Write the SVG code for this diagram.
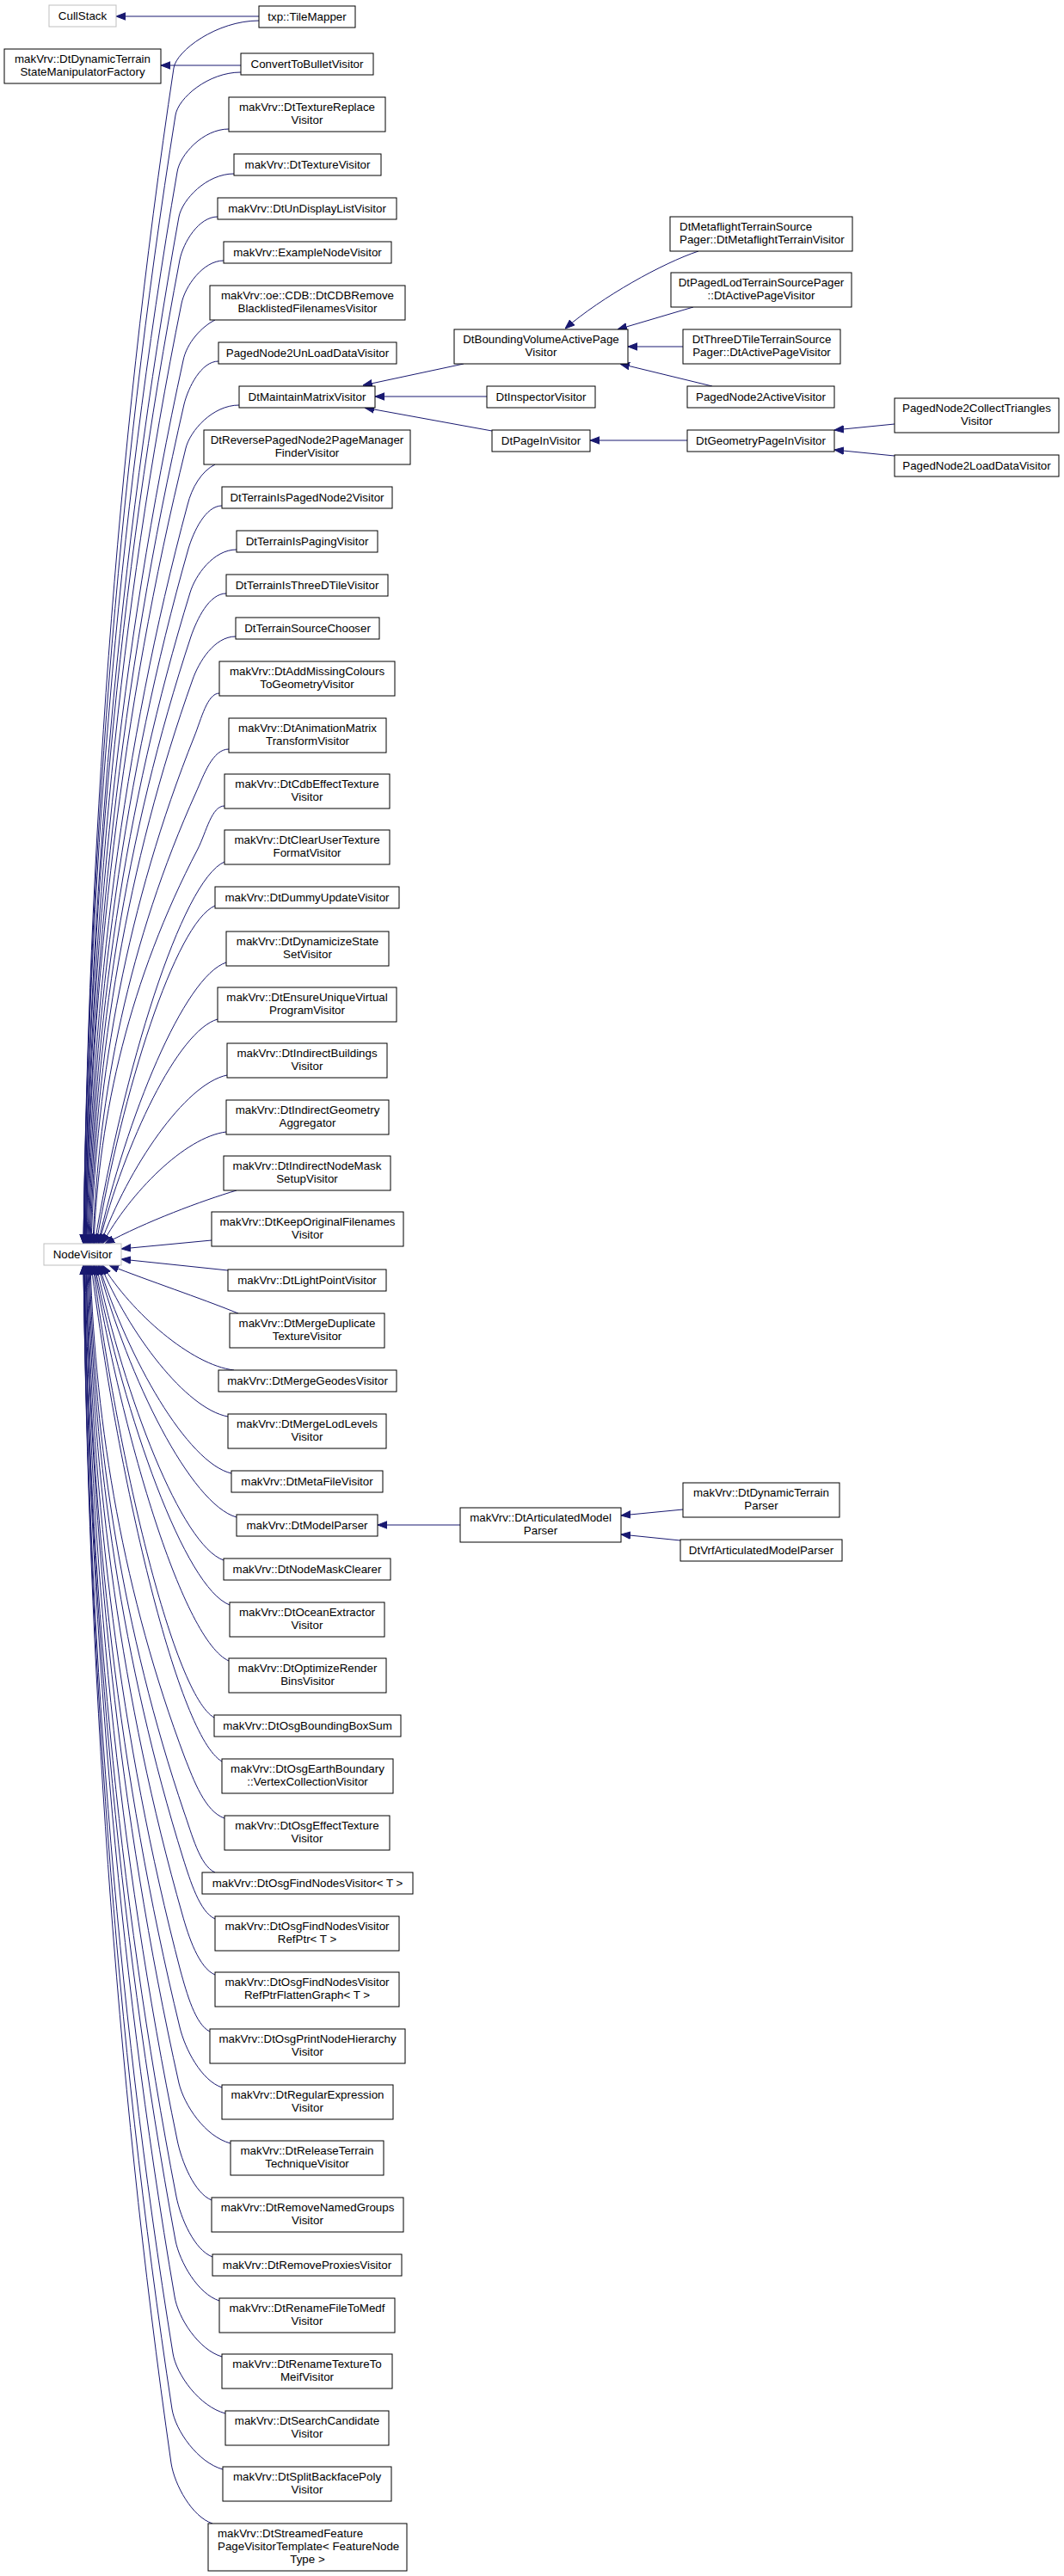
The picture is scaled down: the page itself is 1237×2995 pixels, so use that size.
<svg xmlns="http://www.w3.org/2000/svg" width="1237" height="2995" viewBox="0 0 1237 2995">
<style>
.n rect{fill:#fff;stroke:#000;stroke-width:1}
.g rect{fill:#fff;stroke:#bfbfbf;stroke-width:1}
text{font-family:"Liberation Sans",Arial,Helvetica,sans-serif;font-size:13.33px;fill:#000;text-anchor:middle}
text.l{text-anchor:start}
#edges path{fill:none;stroke:#191970;stroke-width:1;marker-end:url(#ah)}
</style>
<defs>
<marker id="ah" viewBox="0 0 11 10" refX="11" refY="5" markerWidth="11" markerHeight="10" markerUnits="userSpaceOnUse" orient="auto">
<path d="M0,0.8 L11,5 L0,9.2 Z" fill="#191970" stroke="#191970" stroke-width="1"/>
</marker>
</defs>
<rect x="0" y="0" width="1237" height="2995" fill="#fff"/>
<g id="edges">
<path d="M301,19 L135,19"/>
<path d="M280,76 L187,76"/>
<path d="M539,423 L422,448"/>
<path d="M566,461 L436,461"/>
<path d="M572,501 L424,474"/>
<path d="M812,292 C770,306 700,345 657,382"/>
<path d="M806,357 L718,383"/>
<path d="M794,403 L730,403"/>
<path d="M828,449 L721,423"/>
<path d="M799,512 L686,512"/>
<path d="M1040,493 L970,500"/>
<path d="M1040,530 L970,523"/>
<path d="M535,1773 L439,1773"/>
<path d="M794,1755 L722,1762"/>
<path d="M791,1791 L722,1784"/>
<path d="M301,24 C252,24 205,59 202,79 C134,530 103,995 97,1446"/>
<path d="M280,84 C242,84 207,114 204,134 C135,567 103,1013 97,1446"/>
<path d="M266,150 C236,150 209,180 206,200 C135,611 103,1035 97,1446"/>
<path d="M272,202 C240,202 212,232 208,252 C137,646 104,1052 98,1446"/>
<path d="M253,252 C231,252 213,282 209,302 C137,680 104,1068 98,1446"/>
<path d="M260,303 C236,303 215,333 211,353 C138,714 105,1085 99,1446"/>
<path d="M250,372 C234,380 217,399 213,419 C139,758 105,1107 99,1446"/>
<path d="M254,420 C234,420 219,450 214,470 C140,792 106,1124 100,1446"/>
<path d="M278,471 C247,471 221,501 216,521 C141,826 106,1141 100,1446"/>
<path d="M250,540 C234,548 223,567 218,587 C142,870 107,1163 101,1446"/>
<path d="M258,588 C239,588 225,618 219,638 C143,905 108,1179 102,1446"/>
<path d="M275,639 C248,639 227,669 221,689 C144,939 109,1196 103,1446"/>
<path d="M263,690 C243,690 229,720 222,740 C145,973 110,1213 104,1446"/>
<path d="M274,740 C249,740 231,770 224,790 C147,1006 111,1230 105,1446"/>
<path d="M255,806 C241,806 234,836 226,856 C148,1051 112,1251 106,1446"/>
<path d="M266,871 C247,871 237,901 228,921 C150,1094 114,1273 108,1446"/>
<path d="M261,937 C246,937 240,967 230,987 C151,1138 115,1295 109,1446"/>
<path d="M261,1002 C211,1024 143,1246 110,1446"/>
<path d="M250,1053 C204,1073 142,1269 112,1446"/>
<path d="M263,1119 C214,1135 147,1299 114,1446"/>
<path d="M253,1185 C207,1198 145,1329 115,1446"/>
<path d="M264,1250 C215,1260 149,1358 117,1446"/>
<path d="M263,1316 C215,1322 151,1387 119,1446"/>
<path d="M275,1384 C235,1396 170,1420 122,1446"/>
<path d="M246,1442 L141,1452"/>
<path d="M265,1477 L141,1464"/>
<path d="M277,1527 C230,1508 175,1490 127,1471"/>
<path d="M272,1593 C222,1587 153,1526 119,1471"/>
<path d="M265,1647 C216,1638 150,1550 117,1471"/>
<path d="M269,1713 C218,1701 149,1580 115,1471"/>
<path d="M275,1764 C222,1749 149,1603 114,1471"/>
<path d="M260,1814 C211,1797 145,1625 112,1471"/>
<path d="M267,1866 C215,1846 145,1649 110,1471"/>
<path d="M266,1931 C214,1908 144,1678 109,1471"/>
<path d="M249,1997 C203,1971 139,1708 108,1471"/>
<path d="M258,2048 C208,2019 139,1731 106,1471"/>
<path d="M261,2114 C238,2106 225,2069 215,2044 C144,1855 111,1660 105,1471"/>
<path d="M250,2177 C232,2169 223,2132 214,2107 C143,1897 110,1681 104,1471"/>
<path d="M250,2231 C232,2223 221,2186 213,2161 C142,1933 109,1699 103,1471"/>
<path d="M250,2296 C231,2288 219,2251 212,2226 C141,1977 108,1720 102,1471"/>
<path d="M244,2362 C227,2354 217,2317 210,2292 C139,2021 107,1742 101,1471"/>
<path d="M258,2427 C234,2419 215,2382 209,2357 C138,2065 106,1763 100,1471"/>
<path d="M268,2492 C238,2484 214,2447 208,2422 C138,2108 106,1785 100,1471"/>
<path d="M246,2558 C226,2550 211,2513 206,2488 C137,2152 105,1807 99,1471"/>
<path d="M247,2624 C226,2616 210,2579 205,2554 C136,2197 104,1828 98,1471"/>
<path d="M255,2675 C230,2667 209,2630 204,2605 C135,2231 104,1845 98,1471"/>
<path d="M258,2740 C231,2732 207,2695 203,2670 C135,2274 104,1867 98,1471"/>
<path d="M262,2806 C232,2798 205,2761 201,2736 C133,2319 103,1888 97,1471"/>
<path d="M259,2871 C230,2863 204,2826 200,2801 C133,2362 103,1910 97,1471"/>
<path d="M247,2934 C223,2926 203,2889 199,2864 C133,2404 103,1931 97,1471"/>
</g>
<g id="CullStack" class="g"><rect x="57" y="6" width="78" height="25"/><text x="96" y="22.5">CullStack</text></g>
<g id="DtDynamicTerrainStateManipulatorFactory" class="n"><rect x="5" y="57" width="182" height="40"/><text x="96" y="73">makVrv::DtDynamicTerrain</text><text x="96" y="88">StateManipulatorFactory</text></g>
<g id="NodeVisitor" class="g"><rect x="51" y="1446" width="90" height="25"/><text x="96" y="1462.5">NodeVisitor</text></g>
<g id="TileMapper" class="n"><rect x="301" y="7" width="112" height="25"/><text x="357" y="23.5">txp::TileMapper</text></g>
<g id="ConvertToBulletVisitor" class="n"><rect x="280" y="62" width="154" height="25"/><text x="357" y="78.5">ConvertToBulletVisitor</text></g>
<g id="DtTextureReplaceVisitor" class="n"><rect x="266" y="113" width="182" height="40"/><text x="357" y="129">makVrv::DtTextureReplace</text><text x="357" y="144">Visitor</text></g>
<g id="DtTextureVisitor" class="n"><rect x="272" y="179" width="171" height="25"/><text x="357.5" y="195.5">makVrv::DtTextureVisitor</text></g>
<g id="DtUnDisplayListVisitor" class="n"><rect x="253" y="230" width="208" height="25"/><text x="357" y="246.5">makVrv::DtUnDisplayListVisitor</text></g>
<g id="ExampleNodeVisitor" class="n"><rect x="260" y="281" width="195" height="25"/><text x="357.5" y="297.5">makVrv::ExampleNodeVisitor</text></g>
<g id="DtCDBRemoveBlacklistedFilenamesVisitor" class="n"><rect x="244" y="332" width="227" height="40"/><text x="357.5" y="348">makVrv::oe::CDB::DtCDBRemove</text><text x="357.5" y="363">BlacklistedFilenamesVisitor</text></g>
<g id="PagedNode2UnLoadDataVisitor" class="n"><rect x="254" y="398" width="207" height="25"/><text x="357.5" y="414.5">PagedNode2UnLoadDataVisitor</text></g>
<g id="DtMaintainMatrixVisitor" class="n"><rect x="278" y="449" width="158" height="25"/><text x="357" y="465.5">DtMaintainMatrixVisitor</text></g>
<g id="DtReversePagedNode2PageManagerFinderVisitor" class="n"><rect x="237" y="500" width="240" height="40"/><text x="357" y="516">DtReversePagedNode2PageManager</text><text x="357" y="531">FinderVisitor</text></g>
<g id="DtTerrainIsPagedNode2Visitor" class="n"><rect x="258" y="566" width="198" height="25"/><text x="357" y="582.5">DtTerrainIsPagedNode2Visitor</text></g>
<g id="DtTerrainIsPagingVisitor" class="n"><rect x="275" y="617" width="164" height="25"/><text x="357" y="633.5">DtTerrainIsPagingVisitor</text></g>
<g id="DtTerrainIsThreeDTileVisitor" class="n"><rect x="263" y="668" width="188" height="25"/><text x="357" y="684.5">DtTerrainIsThreeDTileVisitor</text></g>
<g id="DtTerrainSourceChooser" class="n"><rect x="274" y="718" width="167" height="25"/><text x="357.5" y="734.5">DtTerrainSourceChooser</text></g>
<g id="DtAddMissingColoursToGeometryVisitor" class="n"><rect x="255" y="769" width="204" height="40"/><text x="357" y="785">makVrv::DtAddMissingColours</text><text x="357" y="800">ToGeometryVisitor</text></g>
<g id="DtAnimationMatrixTransformVisitor" class="n"><rect x="266" y="835" width="183" height="40"/><text x="357.5" y="851">makVrv::DtAnimationMatrix</text><text x="357.5" y="866">TransformVisitor</text></g>
<g id="DtCdbEffectTextureVisitor" class="n"><rect x="261" y="900" width="192" height="40"/><text x="357" y="916">makVrv::DtCdbEffectTexture</text><text x="357" y="931">Visitor</text></g>
<g id="DtClearUserTextureFormatVisitor" class="n"><rect x="261" y="965" width="192" height="40"/><text x="357" y="981">makVrv::DtClearUserTexture</text><text x="357" y="996">FormatVisitor</text></g>
<g id="DtDummyUpdateVisitor" class="n"><rect x="250" y="1031" width="214" height="25"/><text x="357" y="1047.5">makVrv::DtDummyUpdateVisitor</text></g>
<g id="DtDynamicizeStateSetVisitor" class="n"><rect x="263" y="1083" width="189" height="40"/><text x="357.5" y="1099">makVrv::DtDynamicizeState</text><text x="357.5" y="1114">SetVisitor</text></g>
<g id="DtEnsureUniqueVirtualProgramVisitor" class="n"><rect x="253" y="1148" width="208" height="40"/><text x="357" y="1164">makVrv::DtEnsureUniqueVirtual</text><text x="357" y="1179">ProgramVisitor</text></g>
<g id="DtIndirectBuildingsVisitor" class="n"><rect x="264" y="1213" width="186" height="40"/><text x="357" y="1229">makVrv::DtIndirectBuildings</text><text x="357" y="1244">Visitor</text></g>
<g id="DtIndirectGeometryAggregator" class="n"><rect x="263" y="1279" width="189" height="40"/><text x="357.5" y="1295">makVrv::DtIndirectGeometry</text><text x="357.5" y="1310">Aggregator</text></g>
<g id="DtIndirectNodeMaskSetupVisitor" class="n"><rect x="260" y="1344" width="194" height="40"/><text x="357" y="1360">makVrv::DtIndirectNodeMask</text><text x="357" y="1375">SetupVisitor</text></g>
<g id="DtKeepOriginalFilenamesVisitor" class="n"><rect x="246" y="1409" width="223" height="40"/><text x="357.5" y="1425">makVrv::DtKeepOriginalFilenames</text><text x="357.5" y="1440">Visitor</text></g>
<g id="DtLightPointVisitor" class="n"><rect x="265" y="1476" width="184" height="25"/><text x="357" y="1492.5">makVrv::DtLightPointVisitor</text></g>
<g id="DtMergeDuplicateTextureVisitor" class="n"><rect x="267" y="1527" width="180" height="40"/><text x="357" y="1543">makVrv::DtMergeDuplicate</text><text x="357" y="1558">TextureVisitor</text></g>
<g id="DtMergeGeodesVisitor" class="n"><rect x="254" y="1593" width="207" height="25"/><text x="357.5" y="1609.5">makVrv::DtMergeGeodesVisitor</text></g>
<g id="DtMergeLodLevelsVisitor" class="n"><rect x="265" y="1644" width="184" height="40"/><text x="357" y="1660">makVrv::DtMergeLodLevels</text><text x="357" y="1675">Visitor</text></g>
<g id="DtMetaFileVisitor" class="n"><rect x="269" y="1710" width="176" height="25"/><text x="357" y="1726.5">makVrv::DtMetaFileVisitor</text></g>
<g id="DtModelParser" class="n"><rect x="275" y="1761" width="164" height="25"/><text x="357" y="1777.5">makVrv::DtModelParser</text></g>
<g id="DtNodeMaskClearer" class="n"><rect x="260" y="1812" width="194" height="25"/><text x="357" y="1828.5">makVrv::DtNodeMaskClearer</text></g>
<g id="DtOceanExtractorVisitor" class="n"><rect x="267" y="1863" width="180" height="40"/><text x="357" y="1879">makVrv::DtOceanExtractor</text><text x="357" y="1894">Visitor</text></g>
<g id="DtOptimizeRenderBinsVisitor" class="n"><rect x="266" y="1928" width="183" height="40"/><text x="357.5" y="1944">makVrv::DtOptimizeRender</text><text x="357.5" y="1959">BinsVisitor</text></g>
<g id="DtOsgBoundingBoxSum" class="n"><rect x="249" y="1994" width="217" height="25"/><text x="357.5" y="2010.5">makVrv::DtOsgBoundingBoxSum</text></g>
<g id="DtOsgEarthBoundaryVertexCollectionVisitor" class="n"><rect x="258" y="2045" width="199" height="40"/><text x="357.5" y="2061">makVrv::DtOsgEarthBoundary</text><text x="357.5" y="2076">::VertexCollectionVisitor</text></g>
<g id="DtOsgEffectTextureVisitor" class="n"><rect x="261" y="2111" width="192" height="40"/><text x="357" y="2127">makVrv::DtOsgEffectTexture</text><text x="357" y="2142">Visitor</text></g>
<g id="DtOsgFindNodesVisitor" class="n"><rect x="235" y="2177" width="245" height="25"/><text x="357.5" y="2193.5">makVrv::DtOsgFindNodesVisitor&lt; T &gt;</text></g>
<g id="DtOsgFindNodesVisitorRefPtr" class="n"><rect x="250" y="2228" width="214" height="40"/><text x="357" y="2244">makVrv::DtOsgFindNodesVisitor</text><text x="357" y="2259">RefPtr&lt; T &gt;</text></g>
<g id="DtOsgFindNodesVisitorRefPtrFlattenGraph" class="n"><rect x="250" y="2293" width="214" height="40"/><text x="357" y="2309">makVrv::DtOsgFindNodesVisitor</text><text x="357" y="2324">RefPtrFlattenGraph&lt; T &gt;</text></g>
<g id="DtOsgPrintNodeHierarchyVisitor" class="n"><rect x="244" y="2359" width="227" height="40"/><text x="357.5" y="2375">makVrv::DtOsgPrintNodeHierarchy</text><text x="357.5" y="2390">Visitor</text></g>
<g id="DtRegularExpressionVisitor" class="n"><rect x="258" y="2424" width="199" height="40"/><text x="357.5" y="2440">makVrv::DtRegularExpression</text><text x="357.5" y="2455">Visitor</text></g>
<g id="DtReleaseTerrainTechniqueVisitor" class="n"><rect x="268" y="2489" width="178" height="40"/><text x="357" y="2505">makVrv::DtReleaseTerrain</text><text x="357" y="2520">TechniqueVisitor</text></g>
<g id="DtRemoveNamedGroupsVisitor" class="n"><rect x="246" y="2555" width="223" height="40"/><text x="357.5" y="2571">makVrv::DtRemoveNamedGroups</text><text x="357.5" y="2586">Visitor</text></g>
<g id="DtRemoveProxiesVisitor" class="n"><rect x="247" y="2621" width="220" height="25"/><text x="357" y="2637.5">makVrv::DtRemoveProxiesVisitor</text></g>
<g id="DtRenameFileToMedfVisitor" class="n"><rect x="255" y="2672" width="204" height="40"/><text x="357" y="2688">makVrv::DtRenameFileToMedf</text><text x="357" y="2703">Visitor</text></g>
<g id="DtRenameTextureToMeifVisitor" class="n"><rect x="258" y="2737" width="198" height="40"/><text x="357" y="2753">makVrv::DtRenameTextureTo</text><text x="357" y="2768">MeifVisitor</text></g>
<g id="DtSearchCandidateVisitor" class="n"><rect x="262" y="2803" width="190" height="40"/><text x="357" y="2819">makVrv::DtSearchCandidate</text><text x="357" y="2834">Visitor</text></g>
<g id="DtSplitBackfacePolyVisitor" class="n"><rect x="259" y="2868" width="196" height="40"/><text x="357" y="2884">makVrv::DtSplitBackfacePoly</text><text x="357" y="2899">Visitor</text></g>
<g id="DtStreamedFeaturePageVisitorTemplate" class="n"><rect x="242" y="2934" width="231" height="55"/><text class="l" x="253" y="2950">makVrv::DtStreamedFeature</text><text class="l" x="253" y="2965">PageVisitorTemplate&lt; FeatureNode</text><text x="357.5" y="2980">Type &gt;</text></g>
<g id="DtBoundingVolumeActivePageVisitor" class="n"><rect x="528" y="383" width="202" height="40"/><text x="629" y="399">DtBoundingVolumeActivePage</text><text x="629" y="414">Visitor</text></g>
<g id="DtInspectorVisitor" class="n"><rect x="566" y="449" width="126" height="25"/><text x="629" y="465.5">DtInspectorVisitor</text></g>
<g id="DtPageInVisitor" class="n"><rect x="572" y="500" width="114" height="25"/><text x="629" y="516.5">DtPageInVisitor</text></g>
<g id="DtMetaflightTerrainVisitor" class="n"><rect x="779" y="252" width="212" height="40"/><text class="l" x="790" y="268">DtMetaflightTerrainSource</text><text class="l" x="790" y="283">Pager::DtMetaflightTerrainVisitor</text></g>
<g id="DtPagedLodActivePageVisitor" class="n"><rect x="780" y="317" width="210" height="40"/><text x="885" y="333">DtPagedLodTerrainSourcePager</text><text x="885" y="348">::DtActivePageVisitor</text></g>
<g id="DtThreeDTileActivePageVisitor" class="n"><rect x="794" y="383" width="183" height="40"/><text x="885.5" y="399">DtThreeDTileTerrainSource</text><text x="885.5" y="414">Pager::DtActivePageVisitor</text></g>
<g id="PagedNode2ActiveVisitor" class="n"><rect x="799" y="449" width="171" height="25"/><text x="884.5" y="465.5">PagedNode2ActiveVisitor</text></g>
<g id="DtGeometryPageInVisitor" class="n"><rect x="799" y="500" width="171" height="25"/><text x="884.5" y="516.5">DtGeometryPageInVisitor</text></g>
<g id="PagedNode2CollectTrianglesVisitor" class="n"><rect x="1040" y="463" width="191" height="40"/><text x="1135.5" y="479">PagedNode2CollectTriangles</text><text x="1135.5" y="494">Visitor</text></g>
<g id="PagedNode2LoadDataVisitor" class="n"><rect x="1040" y="529" width="191" height="25"/><text x="1135.5" y="545.5">PagedNode2LoadDataVisitor</text></g>
<g id="DtArticulatedModelParser" class="n"><rect x="535" y="1753" width="187" height="40"/><text x="628.5" y="1769">makVrv::DtArticulatedModel</text><text x="628.5" y="1784">Parser</text></g>
<g id="DtDynamicTerrainParser" class="n"><rect x="794" y="1724" width="182" height="40"/><text x="885" y="1740">makVrv::DtDynamicTerrain</text><text x="885" y="1755">Parser</text></g>
<g id="DtVrfArticulatedModelParser" class="n"><rect x="791" y="1790" width="188" height="25"/><text x="885" y="1806.5">DtVrfArticulatedModelParser</text></g>
</svg>
